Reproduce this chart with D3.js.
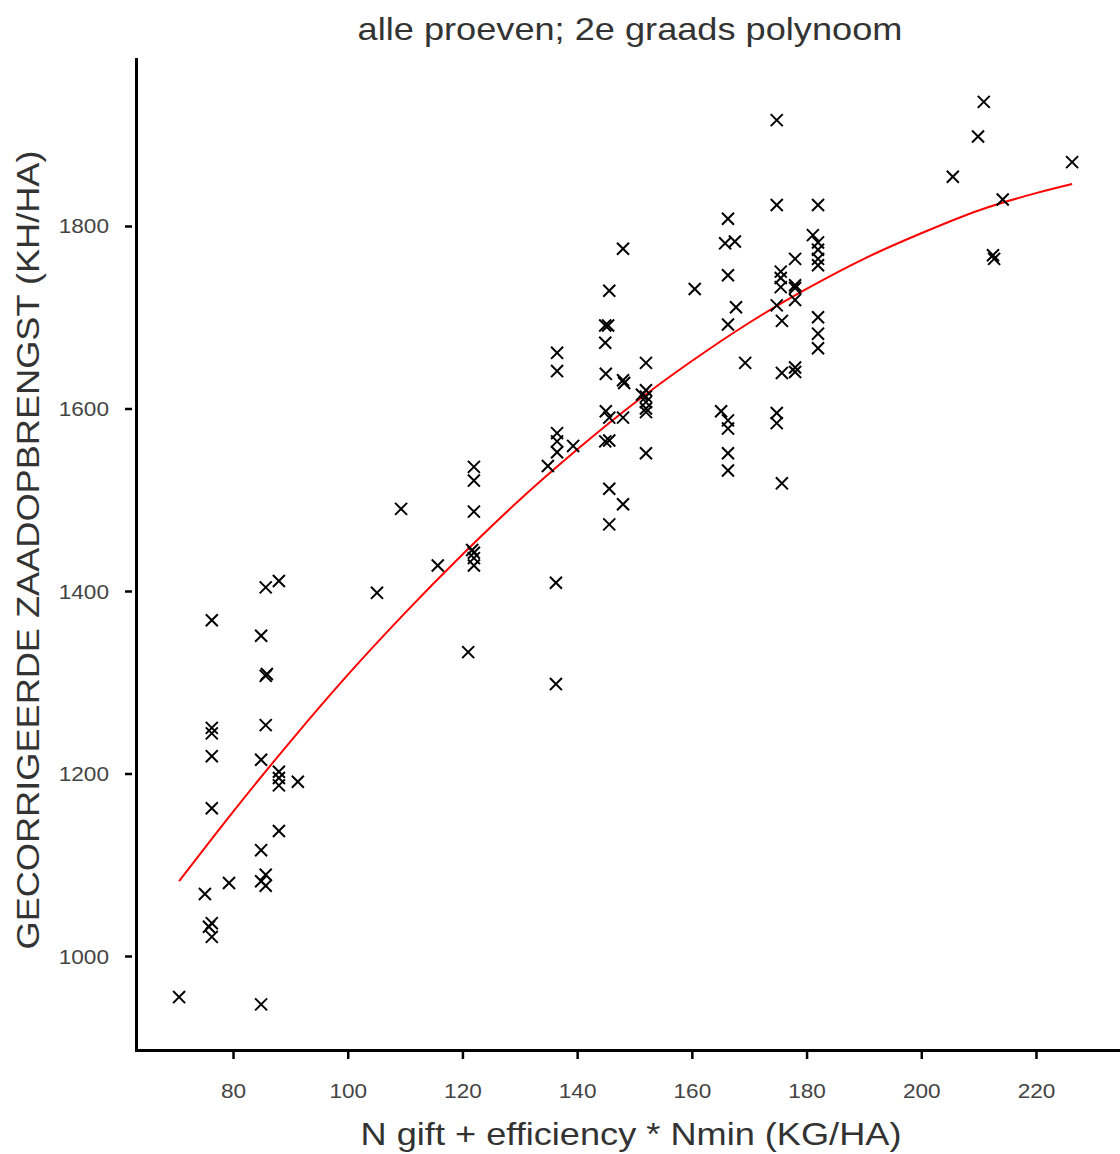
<!DOCTYPE html>
<html>
<head>
<meta charset="utf-8">
<script src="https://cdn.jsdelivr.net/npm/d3@7"></script>
<style>
  html, body { margin: 0; padding: 0; background: #fff; }
  #chart { width: 1120px; height: 1154px; }
  text { font-family: "Liberation Sans", Arial, sans-serif; }
</style>
</head>
<body>
<div id="chart"></div>
<script>
// N-gift (incl. Nmin) vs corrected seed yield, all trials
const nTotaal = [
  76.3, 76.3, 76.3, 76.3, 76.3, 76.3, 75.8, 76.3, 75.1, 79.3,
  70.6, 84.9, 84.9, 85.7, 84.9, 85.7, 84.9, 85.7, 85.7, 85.9,
  84.9, 85.7, 88.0, 88.0, 88.0, 88.0, 91.3, 88.0,
  122.0, 122.0, 109.3, 122.0, 121.7, 122.0, 122.0, 122.0, 115.7, 105.1,
  136.3, 121.0, 136.3,
  136.5, 136.5, 136.5, 136.5, 136.5, 134.9, 139.3,
  148.0, 145.6, 160.5, 144.9, 145.4, 144.9, 145.0, 148.0, 148.2, 152.0,
  152.0, 151.3, 152.0, 152.0, 152.0, 152.0, 145.0, 145.6, 148.0, 144.9,
  145.6, 152.0, 145.6, 148.0, 145.6,
  174.8, 182.0, 166.3, 165.8, 167.5, 181.1, 182.0, 182.0, 182.0, 182.0,
  166.3, 178.0, 175.5, 175.5, 175.5, 178.0, 178.0, 178.0, 174.8, 175.7,
  167.7, 166.3, 182.0, 182.0, 182.0, 169.3, 178.0,
  175.7, 178.0, 165.1, 166.3, 166.3, 166.3, 166.3, 174.8, 174.8, 175.7,
  210.9, 209.9, 205.5, 226.3, 214.2, 212.5, 212.7, 174.8
];
const opbrengst = [
  1368, 1250, 1244, 1219, 1162, 1036, 1032, 1021, 1068, 1080,
  955, 947, 1116, 1089, 1082, 1077, 1215, 1253, 1307, 1309,
  1351, 1404, 1411, 1202, 1195, 1187, 1191, 1137,
  1536, 1521, 1490, 1487, 1445, 1442, 1436, 1428, 1428, 1398,
  1409, 1333, 1298,
  1661, 1641, 1573, 1564, 1552, 1537, 1559,
  1775, 1729, 1731, 1691, 1691, 1672, 1638, 1631, 1628, 1650,
  1620, 1615, 1613, 1607, 1600, 1596, 1597, 1590, 1590, 1564,
  1565, 1551, 1512, 1495, 1473,
  1823, 1823, 1808, 1781, 1783, 1790, 1782, 1774, 1764, 1757,
  1746, 1764, 1750, 1743, 1733, 1735, 1732, 1719, 1713, 1696,
  1711, 1692, 1700, 1682, 1666, 1650, 1645,
  1639, 1640, 1597, 1587, 1578, 1551, 1532, 1595, 1584, 1518,
  1936, 1898, 1854, 1870, 1829, 1768, 1764, 1916
];

// fitted 2nd-degree curve, sampled along the N range
const curveN = [70.6, 80, 90, 100, 110, 120, 130, 140, 150, 160, 170, 180, 190, 200, 210, 220, 226.3];
const curveOpbrengst = [1082, 1158, 1235, 1308, 1376, 1440, 1500, 1555, 1606, 1652, 1694, 1731, 1764, 1792, 1817, 1836, 1846];

const xTicks = [80, 100, 120, 140, 160, 180, 200, 220];
const yTicks = [1000, 1200, 1400, 1600, 1800];

const width = 1120, height = 1154;
const margin = { top: 58, right: 0, bottom: 105, left: 135 };
const stretch = 1.13; // text is drawn a bit wider than the plain font

const svg = d3.select("#chart").append("svg")
  .attr("width", width)
  .attr("height", height);

const x = d3.scaleLinear()
  .domain([62.91, 234.65])
  .range([margin.left, width - margin.right]);

const y = d3.scaleLinear()
  .domain([898.1, 1984.1])
  .range([height - margin.bottom, margin.top]);

const points = nTotaal.map((n, i) => ({ n, v: opbrengst[i] }));
const fit = curveN.map((n, i) => ({ n, v: curveOpbrengst[i] }));

// axes
const xAxis = svg.append("g")
  .attr("transform", `translate(0,${height - margin.bottom})`)
  .call(d3.axisBottom(x).tickValues(xTicks).tickFormat(d3.format("d")).tickSize(0).tickPadding(0));
xAxis.select(".domain").remove();
xAxis.selectAll(".tick").append("line")
  .attr("y1", 3).attr("y2", 10)
  .attr("stroke", "#000").attr("stroke-width", 2.5);
xAxis.selectAll(".tick text")
  .attr("y", 49).attr("dy", 0)
  .style("font-size", "20px")
  .attr("fill", "#444");

const yAxis = svg.append("g")
  .attr("transform", `translate(${margin.left},0)`)
  .call(d3.axisLeft(y).tickValues(yTicks).tickFormat(d3.format("d")).tickSize(0).tickPadding(0));
yAxis.select(".domain").remove();
yAxis.selectAll(".tick").append("line")
  .attr("x1", -3).attr("x2", -10)
  .attr("stroke", "#000").attr("stroke-width", 2.5);
yAxis.selectAll(".tick text")
  .attr("x", -26).attr("dy", "0.35em")
  .style("font-size", "20px")
  .attr("fill", "#444");

svg.append("path")
  .attr("d", `M${margin.left + 1.5},${margin.top}V${height - margin.bottom + 1.5}H${width}`)
  .attr("fill", "none")
  .attr("stroke", "#000")
  .attr("stroke-width", 3);

// fitted curve
svg.append("path")
  .datum(fit)
  .attr("fill", "none")
  .attr("stroke", "#ff0000")
  .attr("stroke-width", 2)
  .attr("d", d3.line().x(d => x(d.n)).y(d => y(d.v)).curve(d3.curveMonotoneX));

// observations
svg.append("g")
  .selectAll("path")
  .data(points)
  .join("path")
  .attr("transform", d => `translate(${x(d.n)},${y(d.v)})`)
  .attr("d", d3.symbol(d3.symbolX, 96))
  .attr("fill", "none")
  .attr("stroke", "#000")
  .attr("stroke-width", 2);

// titles
svg.append("text")
  .attr("x", 630).attr("y", 40)
  .attr("text-anchor", "middle")
  .style("font-size", "32px")
  .attr("fill", "#333")
  .text("alle proeven; 2e graads polynoom");

svg.append("text")
  .attr("x", 631).attr("y", 1145)
  .attr("text-anchor", "middle")
  .style("font-size", "32px")
  .attr("fill", "#333")
  .text("N gift + efficiency * Nmin (KG/HA)");

svg.append("text")
  .attr("transform", "translate(39,550) rotate(-90)")
  .attr("text-anchor", "middle")
  .style("font-size", "32px")
  .attr("fill", "#333")
  .text("GECORRIGEERDE ZAADOPBRENGST (KH/HA)");

// widen every label along its own baseline
svg.selectAll("text").each(function () {
  const len = this.getComputedTextLength();
  d3.select(this)
    .attr("textLength", len * stretch)
    .attr("lengthAdjust", "spacingAndGlyphs");
});
</script>
</body>
</html>
